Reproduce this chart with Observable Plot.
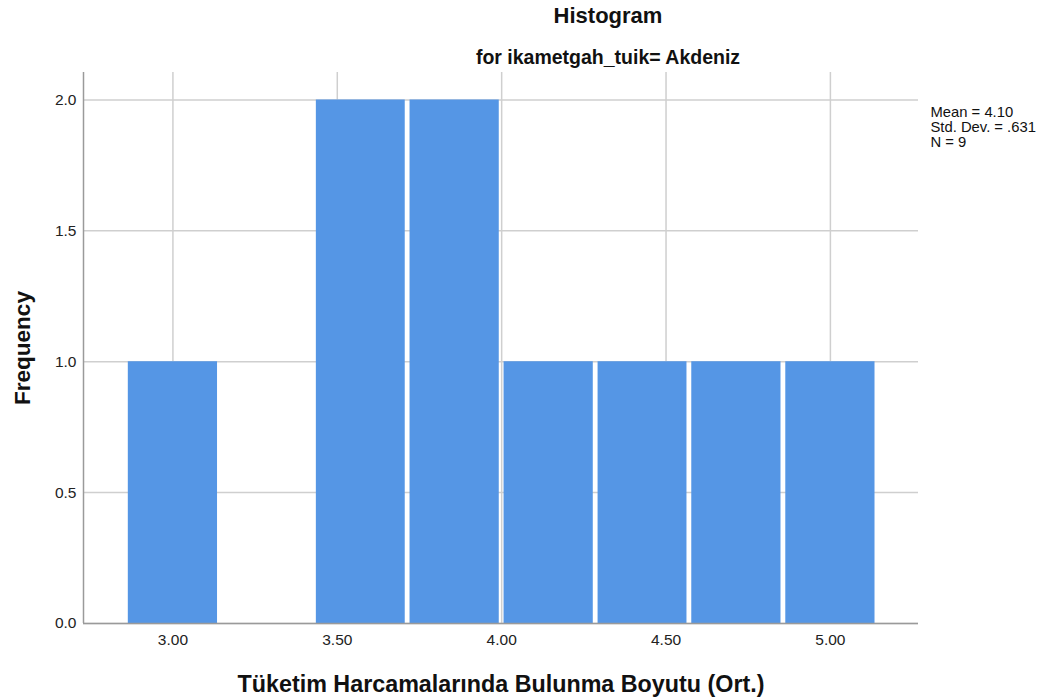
<!DOCTYPE html>
<html>
<head>
<meta charset="utf-8">
<script src="https://cdn.jsdelivr.net/npm/d3@7"></script>
<script src="https://cdn.jsdelivr.net/npm/@observablehq/plot@0.6"></script>
<style>
  html, body { margin: 0; padding: 0; background: #fff; }
  #chart svg { display: block; }
</style>
</head>
<body>
<div id="chart"></div>
<script>
// Bin edges and counts
const binStart = [2.857, 3.143, 3.429, 3.714, 4.000, 4.286, 4.571, 4.857];
const binEnd   = [3.143, 3.429, 3.714, 4.000, 4.286, 4.571, 4.857, 5.143];
const counts   = [1, 0, 2, 2, 1, 1, 1, 1];

const xTicks = [3.0, 3.5, 4.0, 4.5, 5.0];
const yTicks = [0, 0.5, 1.0, 1.5, 2.0];
const xDomain = [2.728, 5.268];
const yDomain = [0, 2.105];

const titleText = "Histogram";
const subtitleText = "for ikametgah_tuik= Akdeniz";
const xLabel = "Tüketim Harcamalarında Bulunma Boyutu (Ort.)";
const yLabel = "Frequency";
const statsLines = ["Mean = 4.10", "Std. Dev. = .631", "N = 9"];

const bins = binStart.map((s, i) => ({x1: s, x2: binEnd[i], y: counts[i]})).filter(d => d.y > 0);

const FONT = "'Liberation Sans', Arial, sans-serif";
const gridColor = "#cfcfcf";
const axisColor = "#9a9a9a";

const chart = Plot.plot({
  width: 1054,
  height: 700,
  marginLeft: 83,
  marginRight: 136,
  marginTop: 72,
  marginBottom: 77,
  style: {fontFamily: FONT, fontSize: "15.5px", color: "#222", background: "#fff"},
  x: {domain: xDomain, ticks: xTicks, tickFormat: d3.format(".2f"), label: null},
  y: {domain: yDomain, ticks: yTicks, tickFormat: d3.format(".1f"), label: null},
  marks: [
    Plot.gridX(xTicks, {stroke: gridColor, strokeOpacity: 1, strokeWidth: 1.5}),
    Plot.gridY(yTicks, {stroke: gridColor, strokeOpacity: 1, strokeWidth: 1.5}),
    Plot.rectY(bins, {x1: "x1", x2: "x2", y: "y", fill: "#5596e5", insetLeft: 2.4, insetRight: 2.4}),
    Plot.ruleY([yDomain[0]], {stroke: axisColor, strokeWidth: 1.5}),
    Plot.ruleX([xDomain[0]], {stroke: axisColor, strokeWidth: 1.5}),
    Plot.axisX(xTicks, {tickSize: 0, tickPadding: 10, tickFormat: d3.format(".2f"), fill: "#222", label: null}),
    Plot.axisY(yTicks, {tickSize: 0, tickPadding: 7, tickFormat: d3.format(".1f"), fill: "#222", label: null}),
    Plot.text([titleText], {frameAnchor: "top", lineAnchor: "bottom", dx: 107, dy: -50, fontSize: 22, fontWeight: "bold", fill: "#111"}),
    Plot.text([subtitleText], {frameAnchor: "top", lineAnchor: "bottom", dx: 107, dy: -9, fontSize: 19.5, fontWeight: "bold", fill: "#111"}),
    Plot.text([xLabel], {frameAnchor: "bottom", lineAnchor: "bottom", dy: 68, fontSize: 23.3, fontWeight: "bold", fill: "#111"}),
    Plot.text([yLabel], {frameAnchor: "left", textAnchor: "middle", rotate: -90, lineAnchor: "middle", dx: -61, fontSize: 22.5, fontWeight: "bold", fill: "#111"}),
    Plot.text([statsLines.join("\n")], {frameAnchor: "top-right", textAnchor: "start", lineAnchor: "top", dx: 12, dy: 34, lineHeight: 1.0, fontSize: 14.8, fill: "#111"})
  ]
});
document.getElementById("chart").appendChild(chart);
</script>
</body>
</html>
